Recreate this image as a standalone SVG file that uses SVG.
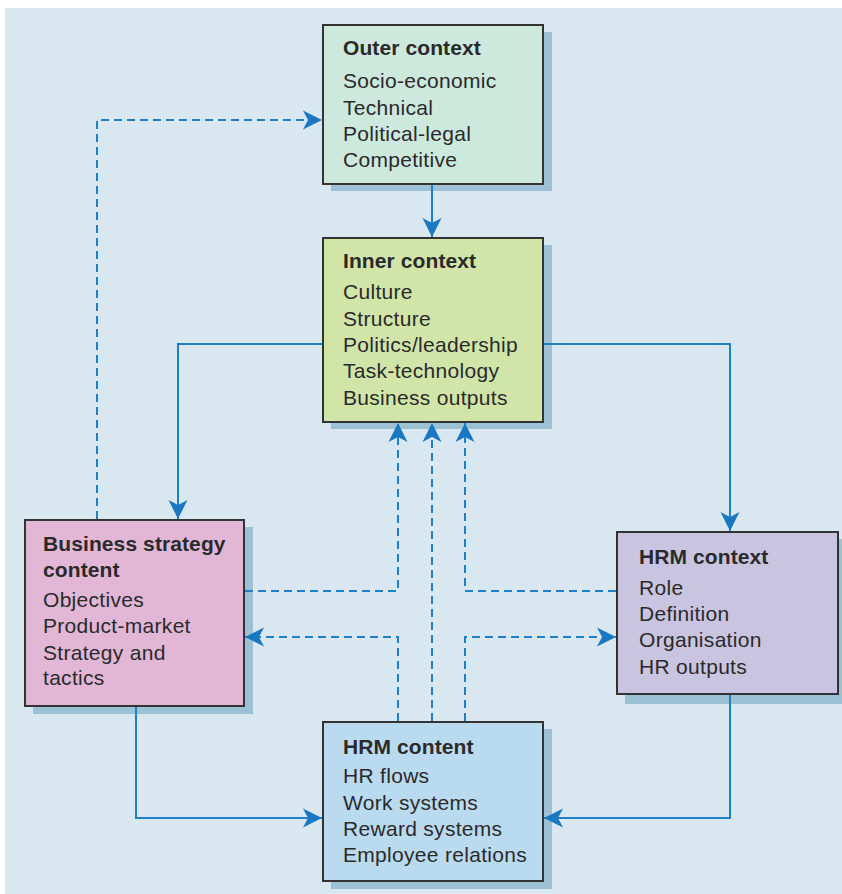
<svg xmlns="http://www.w3.org/2000/svg" width="842" height="894" viewBox="0 0 842 894">
  <style>
    .box { stroke: #333333; stroke-width: 2; }
    .shadow { fill: #9cc1d4; }
    .title { font-family: "Liberation Sans", Arial, sans-serif; font-size: 21px; font-weight: bold; letter-spacing: 0.1px; fill: #2a2a2a; }
    .item { font-family: "Liberation Sans", Arial, sans-serif; font-size: 21px; letter-spacing: 0.3px; fill: #2a2a2a; }
    .solid { fill: none; stroke: #1f80c8; stroke-width: 2; }
    .dash { fill: none; stroke: #1f80c8; stroke-width: 2; stroke-dasharray: 8 5; }
  </style>
  <defs>
    <!-- swept-back barbed arrowhead, tip at the path end -->
    <marker id="arrow" markerUnits="userSpaceOnUse" viewBox="-21 -10 22 20" refX="0" refY="0" markerWidth="22" markerHeight="20" orient="auto">
      <path d="M0,0 Q-8,-4 -19,-9.5 L-14,0 L-19,9.5 Q-8,4 0,0 Z" fill="#1a78c2"/>
    </marker>
  </defs>

  <!-- backdrop -->
  <rect x="5" y="8" width="837" height="886" fill="#d9e8f0"/>

  <!-- Outer context -->
  <g id="outer-context">
    <rect class="shadow" x="331" y="32" width="221" height="159"/>
    <rect class="box" x="323" y="25" width="220" height="159" fill="#cde8dc"/>
    <text class="title" x="343" y="55">Outer context</text>
    <text class="item" x="343" y="88">Socio-economic</text>
    <text class="item" x="343" y="115">Technical</text>
    <text class="item" x="343" y="141">Political-legal</text>
    <text class="item" x="343" y="167">Competitive</text>
  </g>

  <!-- Inner context -->
  <g id="inner-context">
    <rect class="shadow" x="331" y="245" width="221" height="184"/>
    <rect class="box" x="323" y="238" width="220" height="184" fill="#d1e5a9"/>
    <text class="title" x="343" y="268">Inner context</text>
    <text class="item" x="343" y="299">Culture</text>
    <text class="item" x="343" y="326">Structure</text>
    <text class="item" x="343" y="352">Politics/leadership</text>
    <text class="item" x="343" y="378">Task-technology</text>
    <text class="item" x="343" y="405">Business outputs</text>
  </g>

  <!-- Business strategy content -->
  <g id="business-strategy">
    <rect class="shadow" x="33" y="527" width="220" height="187"/>
    <rect class="box" x="25" y="520" width="219" height="186" fill="#e2b7d6"/>
    <text class="title" x="43" y="551">Business strategy</text>
    <text class="title" x="43" y="577">content</text>
    <text class="item" x="43" y="607">Objectives</text>
    <text class="item" x="43" y="633">Product-market</text>
    <text class="item" x="43" y="660">Strategy and</text>
    <text class="item" x="43" y="685">tactics</text>
  </g>

  <!-- HRM context -->
  <g id="hrm-context">
    <rect class="shadow" x="625" y="539" width="217" height="165"/>
    <rect class="box" x="617" y="532" width="221" height="162" fill="#c9c4e0"/>
    <text class="title" x="639" y="564">HRM context</text>
    <text class="item" x="639" y="595">Role</text>
    <text class="item" x="639" y="621">Definition</text>
    <text class="item" x="639" y="647">Organisation</text>
    <text class="item" x="639" y="674">HR outputs</text>
  </g>

  <!-- HRM content -->
  <g id="hrm-content">
    <rect class="shadow" x="331" y="729" width="221" height="160"/>
    <rect class="box" x="323" y="722" width="220" height="159" fill="#badaf0"/>
    <text class="title" x="343" y="754">HRM content</text>
    <text class="item" x="343" y="783">HR flows</text>
    <text class="item" x="343" y="810">Work systems</text>
    <text class="item" x="343" y="836">Reward systems</text>
    <text class="item" x="343" y="862">Employee relations</text>
  </g>

  <!-- connectors, drawn over the box shadows -->
  <g id="connectors">
    <!-- solid flows -->
    <path class="solid" d="M432,185 V237" marker-end="url(#arrow)"/>
    <path class="solid" d="M322,344 H178 V519" marker-end="url(#arrow)"/>
    <path class="solid" d="M544,344 H730 V531" marker-end="url(#arrow)"/>
    <path class="solid" d="M136,707 V818 H322" marker-end="url(#arrow)"/>
    <path class="solid" d="M730,695 V818 H544" marker-end="url(#arrow)"/>
    <!-- dashed feedback -->
    <path class="dash" d="M97,519 V120 H322" marker-end="url(#arrow)"/>
    <path class="dash" d="M245,591 H398 V423" marker-end="url(#arrow)"/>
    <path class="dash" d="M616,591 H465 V423" marker-end="url(#arrow)"/>
    <path class="dash" d="M432,721 V423" marker-end="url(#arrow)"/>
    <path class="dash" d="M398,721 V637 H245" marker-end="url(#arrow)"/>
    <path class="dash" d="M465,721 V637 H616" marker-end="url(#arrow)"/>
  </g>
</svg>
